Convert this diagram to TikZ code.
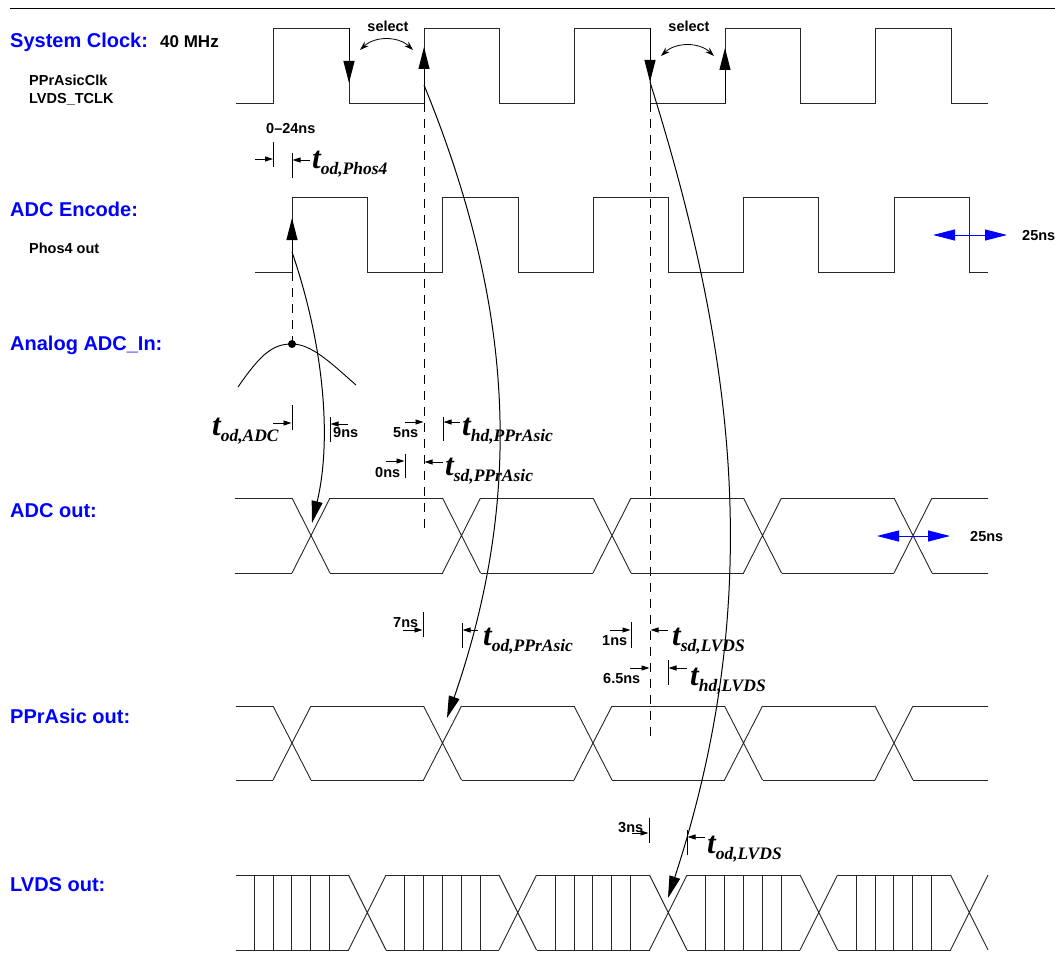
\documentclass[tikz,border=0pt]{standalone}
\usepackage{fontspec}
\setmainfont{Liberation Sans}
\newfontfamily\tserif{Liberation Serif}
\usetikzlibrary{arrows.meta}
\newcommand\tlab[1]{{\tserif\bfseries\itshape\fontsize{31}{31}\selectfont t\fontsize{17.5}{17.5}\selectfont\raisebox{-6pt}{#1}}}
\begin{document}
\begin{tikzpicture}[x=1pt,y=-1pt,
 sig/.style={line width=0.9pt, black!85},
 big/.style={-{Triangle[length=22pt,width=11pt]}, line width=1pt},
 dimar/.style={-{Triangle[length=8pt,width=5pt]}, line width=0.8pt},
 tk/.style={line width=0.8pt},
 dsh/.style={dash pattern=on 9pt off 7pt, line width=0.9pt},
 blab/.style={anchor=base west, text=blue, font=\bfseries\fontsize{20}{20}\selectfont, inner sep=0},
 slab/.style={anchor=base west, font=\bfseries\fontsize{14.5}{14.5}\selectfont, inner sep=0},
 tl/.style={anchor=base west, inner sep=0},
 bluear/.style={blue, line width=1pt, {Triangle[length=22pt,width=11pt]}-{Triangle[length=22pt,width=11pt]}},
 sel/.style={{Stealth[length=9pt,width=6pt]}-{Stealth[length=9pt,width=6pt]}, line width=0.8pt}]
\useasboundingbox (0,0) rectangle (1055,966);
\draw[line width=1pt] (10,9) -- (1055,9);

% left labels
\node[blab] (lclk) at (10,48) {System Clock:};
\node[anchor=base west, inner sep=0, font=\bfseries\fontsize{17}{17}\selectfont] (lmhz) at (160,48) {40 MHz};
\node[slab] (lpp) at (29,85) {PPrAsicClk};
\node[slab] (llv) at (29,103) {LVDS\_TCLK};
\node[blab] (lenc) at (10,216) {ADC Encode:};
\node[slab] (lph) at (29,253) {Phos4 out};
\node[blab] (lana) at (10,350) {Analog ADC\_In:};
\node[blab] (ladc) at (10,517) {ADC out:};
\node[blab] (lppo) at (10,723) {PPrAsic out:};
\node[blab] (llvo) at (10,891) {LVDS out:};

% system clock
\draw[sig] (236,103)--(273.5,103)--(273.5,28)--(349,28)--(349,103)--(424,103)--(424,28)--(499.5,28)--(499.5,103)--(574.5,103)--(574.5,28)--(650,28)--(650,103)--(725,103)--(725,28)--(800.5,28)--(800.5,103)--(875.5,103)--(875.5,28)--(951,28)--(951,103)--(988,103);
\coordinate (cf1) at (349,28);
\coordinate (cf1e) at (349,83);
\coordinate (cr2) at (424,103);
\coordinate (cr2e) at (424,47);
\coordinate (cf3) at (650,28);
\coordinate (cf3e) at (650,82);
\coordinate (cr4) at (725,103);
\coordinate (cr4e) at (725,48);
\draw[big] (cf1) -- (cf1e);
\draw[big] (cr2) -- (cr2e);
\draw[big] (cf3) -- (cf3e);
\draw[big] (cr4) -- (cr4e);
\node[slab, anchor=base] (sel1) at (388,32) {select};
\node[slab, anchor=base] (sel2) at (689,32) {select};
\draw[sel] (360,50) .. controls (375,36) and (398,36) .. (413,50);
\draw[sel] (661,56) .. controls (676,42) and (699,42) .. (714,56);

% 0-24ns
\node[slab] (d024) at (266,133) {0–24ns};
\draw[tk] (273.5,142)--(273.5,167);
\draw[tk] (292,153)--(292,178);
\draw[dimar] (255,159)--(273,159);
\draw[dimar] (310,160)--(292.5,160);
\node[tl] (tph) at (312,168) {\tlab{od,Phos4}};

% ADC encode
\draw[sig] (255,272)--(292,272)--(292,197)--(367,197)--(367,272)--(442.5,272)--(442.5,197)--(518,197)--(518,272)--(593,272)--(593,197)--(668,197)--(668,272)--(743.5,272)--(743.5,197)--(818,197)--(818,272)--(894,272)--(894,197)--(969,197)--(969,272)--(988,272);
\coordinate (er1) at (292,272);
\coordinate (er1e) at (292,218);
\draw[big] (er1) -- (er1e);
\draw[bluear] (933,235) -- (1007,235);
\node[slab] (n25a) at (1022,240) {25ns};

% dashed guides
\coordinate (dot) at (292,344);
\draw[dsh] (292,272) -- (dot);
\draw[dsh] (424,103) -- (424,533);
\draw[dsh] (650,103) -- (650,740);

% analog
\draw[line width=0.9pt] (238,387) .. controls (262,352) and (274,344) .. (dot) .. controls (312,344) and (332,364) .. (356,385);
\fill (dot) circle (4);

% curve arrows
\coordinate (ca0) at (292,252);
\coordinate (ca1) at (312,523);
\draw[big] (ca0) .. controls (324,345) and (332,440) .. (ca1);
\coordinate (cb0) at (424,85);
\coordinate (cb1) at (447,718);
\draw[big] (cb0) .. controls (512,300) and (526,490) .. (cb1);
\coordinate (cc0) at (650,82);
\coordinate (cc1) at (668,898);
\draw[big] (cc0) .. controls (736,356) and (766,598) .. (cc1);

% t_od,ADC and 9ns
\node[tl] (tadc) at (212,435) {\tlab{od,ADC}};
\draw[tk] (292,405)--(292,430);
\draw[dimar] (273,423)--(291.5,423);
\draw[tk] (330,417)--(330,442);
\draw[dimar] (348,424)--(330.5,424);
\node[slab] (n9) at (333,437) {9ns};

% 5ns / hd PPrAsic
\node[slab] (n5) at (393,437) {5ns};
\draw[dimar] (405,422)--(423.5,422);
\draw[tk] (443,417)--(443,441);
\draw[dimar] (460,422)--(443.5,422);
\node[tl] (thdp) at (462,435) {\tlab{hd,PPrAsic}};

% 0ns / sd PPrAsic
\node[slab] (n0) at (375,477) {0ns};
\draw[dimar] (386,461)--(404.5,461);
\draw[tk] (405,454)--(405,478);
\draw[dimar] (443,462)--(424.5,462);
\node[tl] (tsdp) at (445,475) {\tlab{sd,PPrAsic}};

% ADC out
\foreach \s/\e in {235/292, 330/442.5, 480.5/593, 631/743.5, 781.5/894, 932/988}
  {\draw[sig] (\s,498)--(\e,498) (\s,573)--(\e,573);}
\foreach \c in {311, 461.5, 612, 762.5, 913}
  {\draw[sig] (\c-19,498)--(\c+19,573) (\c-19,573)--(\c+19,498);}
\draw[bluear] (877,536) -- (950,536);
\node[slab] (n25b) at (970,541) {25ns};

% 7ns / od PPrAsic
\node[slab] (n7) at (393,627) {7ns};
\draw[dimar] (403,630)--(422.5,630);
\draw[tk] (423,612)--(423,637);
\draw[tk] (462,623)--(462,648);
\draw[dimar] (478,630)--(462.5,630);
\node[tl] (todp) at (483,645) {\tlab{od,PPrAsic}};

% 1ns / sd LVDS
\node[slab] (n1) at (602,645) {1ns};
\draw[dimar] (610,630)--(630.5,630);
\draw[tk] (631,622)--(631,648);
\draw[dimar] (668,630)--(650.5,630);
\node[tl] (tsdl) at (672,645) {\tlab{sd,LVDS}};

% 6.5ns / hd LVDS
\node[slab] (n65) at (603,683) {6.5ns};
\draw[dimar] (630,668)--(649.5,668);
\draw[tk] (668,660)--(668,685);
\draw[dimar] (687,668)--(668.5,668);
\node[tl] (thdl) at (690,685) {\tlab{hd,LVDS}};

% PPrAsic out
\foreach \s/\e in {236/273, 311/423.5, 461.5/574, 612/724.5, 762.5/875, 913/988}
  {\draw[sig] (\s,706)--(\e,706) (\s,780)--(\e,780);}
\foreach \c in {292, 442.5, 593, 743.5, 894}
  {\draw[sig] (\c-19,706)--(\c+19,780) (\c-19,780)--(\c+19,706);}

% 3ns / od LVDS
\node[slab] (n3) at (618,832) {3ns};
\draw[dimar] (632,833)--(648.5,833);
\draw[tk] (649,818)--(649,843);
\draw[tk] (687,830)--(687,855);
\draw[dimar] (705,837)--(687.5,837);
\node[tl] (todl) at (707,853) {\tlab{od,LVDS}};

% LVDS out
\foreach \a in {235.5, 386, 536.5, 687, 837.5}
{
  \draw[sig] (\a,875)--(\a+113,875) (\a,950)--(\a+113,950);
  \foreach \j in {1,...,5} {\draw[sig] (\a+18.8*\j,875)--(\a+18.8*\j,950);}
  \draw[sig] (\a+113,875)--(\a+150.5,950) (\a+113,950)--(\a+150.5,875);
}
\end{tikzpicture}
\end{document}
